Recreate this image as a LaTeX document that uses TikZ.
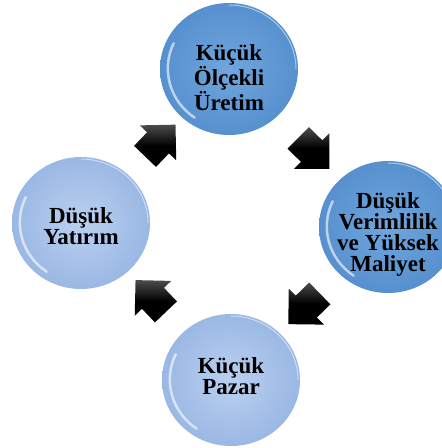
\documentclass[tikz,border=0pt]{standalone}
\usepackage{fontspec}
\setmainfont{Liberation Serif}
\usetikzlibrary{shapes.arrows,shapes.geometric,calc}

\definecolor{darkbub}{RGB}{112,166,222}
\definecolor{darkrim}{RGB}{86,144,206}
\definecolor{lightbub}{RGB}{186,208,240}
\definecolor{lightrim}{RGB}{154,184,228}

\tikzset{
  bubble/.style={ellipse, minimum width=138pt, minimum height=132pt, inner sep=0pt},
  darkbubble/.style={bubble, inner color=darkbub, outer color=darkrim},
  lightbubble/.style={bubble, inner color=lightbub, outer color=lightrim},
  bubtext/.style={align=center, font=\fontsize{23}{21}\selectfont\bfseries},
  gloss/.style={white, opacity=0.6, line width=2.5pt, line cap=round},
  blockarrow/.style={single arrow, top color=gray!60!black, bottom color=black,
    middle color=black, inner xsep=0pt, inner ysep=15pt, minimum height=44pt,
    single arrow head extend=10pt, single arrow tip angle=90}
}

\begin{document}
\begin{tikzpicture}[x=1pt,y=1pt]
  \useasboundingbox (0,0) rectangle (442,448);

  \node[darkbubble, label={[bubtext, yshift=-9pt]center:{Küçük\\Ölçekli\\Üretim}}] (kucuk) at (229,379) {};
  \node[darkbubble, label={[bubtext, yshift=-8pt]center:{Düşük\\Verimlilik\\ve Yüksek\\Maliyet}}] (dusukv) at (388,221) {};
  \node[lightbubble, label={[bubtext, yshift=4pt]center:{Küçük\\Pazar}}] (pazar) at (231,68) {};
  \node[lightbubble, label={[bubtext, yshift=-3pt]center:{Düşük\\Yatırım}}] (yatirim) at (81,225) {};

  % glossy edges
  \foreach \b in {kucuk,dusukv,pazar,yatirim} {
    \draw[gloss] (\b.center) ++(155:61) arc[start angle=155, end angle=235, x radius=63, y radius=60];
    \draw[white, opacity=0.5, line width=1pt] (\b.center) ++(0:67) arc[start angle=0, end angle=90, x radius=67, y radius=64];
  }

  % block arrows between the bubbles
  \foreach \a/\b in {yatirim/kucuk, kucuk/dusukv, dusukv/pazar, pazar/yatirim}
    \path let \p1=($(\b)-(\a)$), \n1={atan2(\y1,\x1)} in
      node[blockarrow, rotate=\n1] (arr-\a) at ($(\a)!0.5!(\b)$) {};
\end{tikzpicture}
\end{document}
